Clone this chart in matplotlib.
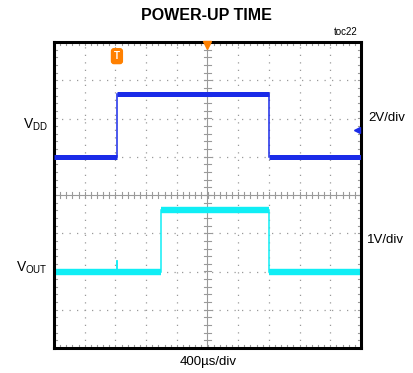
import matplotlib
matplotlib.use("Agg")
import matplotlib.pyplot as plt
import numpy as np

plt.rcParams['font.family'] = ['Liberation Sans', 'DejaVu Sans']

# ---- data (time in µs, voltages in V) ----
t_div_us = 400          # 400µs/div
vdd_scale = 2.0         # 2V/div
vout_scale = 1.0        # 1V/div
vdd_offset_div = 1.0    # VDD ground position (divisions from centre)
vout_offset_div = -2.0  # VOUT ground position

vdd_t = [0, 820, 820, 2800, 2800, 4000]
vdd_v = [0.0, 0.0, 3.3, 3.3, 0.0, 0.0]

vout_t = [0, 815, 815, 822, 822, 1390, 1390, 2800, 2800, 4000]
vout_v = [0.0, 0.0, 0.27, 0.27, 0.0, 0.0, 1.6, 1.6, 0.0, 0.0]

trigger_t = 820
vdd_marker_div = 1.7

fig = plt.figure(figsize=(4.14, 3.73), dpi=100)
W, H = 414, 373
L, R, T, B = 54, 361, 42, 348
ax = fig.add_axes([L / W, (H - B) / H, (R - L) / W, (B - T) / H])
ax.set_xlim(0, 10)
ax.set_ylim(-4, 4)
ax.set_xticks([]); ax.set_yticks([])
for s in ax.spines.values():
    s.set_linewidth(2.2)
    s.set_color('black')

# grid
grid_c = '#9a9a9a'
for gx in range(1, 10):
    if gx == 5:
        continue
    ax.plot([gx, gx], [-4, 4], ls=(0, (1, 5)), color=grid_c, lw=0.9, zorder=1)
for gy in range(-3, 4):
    if gy == 0:
        continue
    ax.plot([0, 10], [gy, gy], ls=(0, (1, 5)), color=grid_c, lw=0.9, zorder=1)
# centre crosshair
ax.plot([5, 5], [-4, 4], color=grid_c, lw=0.8, zorder=1)
ax.plot([0, 10], [0, 0], color=grid_c, lw=0.8, zorder=1)
mx = np.arange(0.2, 10, 0.2)
my = np.arange(-3.8, 4, 0.2)
tx = 0.11
ty = 0.09
for x in mx:
    ax.plot([x, x], [-ty, ty], color=grid_c, lw=0.8, zorder=1)
    ax.plot([x, x], [4 - ty, 4], color=grid_c, lw=0.8, zorder=1)
    ax.plot([x, x], [-4, -4 + ty], color=grid_c, lw=0.8, zorder=1)
for y in my:
    ax.plot([5 - tx, 5 + tx], [y, y], color=grid_c, lw=0.8, zorder=1)
    ax.plot([0, tx], [y, y], color=grid_c, lw=0.8, zorder=1)
    ax.plot([10 - tx, 10], [y, y], color=grid_c, lw=0.8, zorder=1)


def draw_trace(xs, ys, color, lw_h, z):
    for i in range(len(xs) - 1):
        x0, x1, y0, y1 = xs[i], xs[i + 1], ys[i], ys[i + 1]
        if y0 == y1:
            ax.plot([x0, x1], [y0, y1], color=color, lw=lw_h,
                    solid_capstyle='butt', zorder=z)
        else:
            ax.plot([x0, x1], [y0, y1], color=color, lw=1.1, zorder=z)


vx = np.array(vdd_t) / t_div_us
vy = np.array(vdd_v) / vdd_scale + vdd_offset_div
draw_trace(vx, vy, '#1a2be8', 3.6, 3)

ox = np.array(vout_t) / t_div_us
oy = np.array(vout_v) / vout_scale + vout_offset_div
draw_trace(ox, oy, '#10eef5', 4.6, 2)

# markers
ax.plot([5], [3.93], marker='v', color='#ff8000', ms=6, clip_on=False, zorder=5)
ax.text(trigger_t / t_div_us, 3.63, 'T', color='white', fontsize=7, fontweight='bold',
        ha='center', va='center', zorder=6,
        bbox=dict(boxstyle='round,pad=0.25', fc='#ff8000', ec='#ff8000'))
ax.plot([9.87], [vdd_marker_div], marker='<', color='#1a2be8', ms=4, zorder=5)

# labels
fig.text(206 / W, 1 - 15 / H, 'POWER-UP TIME', ha='center', va='center',
         fontsize=11.5, fontweight='bold')
fig.text(358 / W, 1 - 32 / H, 'toc22', ha='right', va='center', fontsize=7)
fig.text(48 / W, 1 - 125 / H, r'V$_{\mathregular{DD}}$', ha='right', va='center', fontsize=10)
fig.text(48 / W, 1 - 268 / H, r'V$_{\mathregular{OUT}}$', ha='right', va='center', fontsize=10)
fig.text(368 / W, 1 - 118 / H, '2V/div', ha='left', va='center', fontsize=9.5)
fig.text(367 / W, 1 - 240 / H, '1V/div', ha='left', va='center', fontsize=9.5)
fig.text(208 / W, 1 - 362 / H, '400µs/div', ha='center', va='center', fontsize=9.5)

fig.savefig('out.png', dpi=100)
